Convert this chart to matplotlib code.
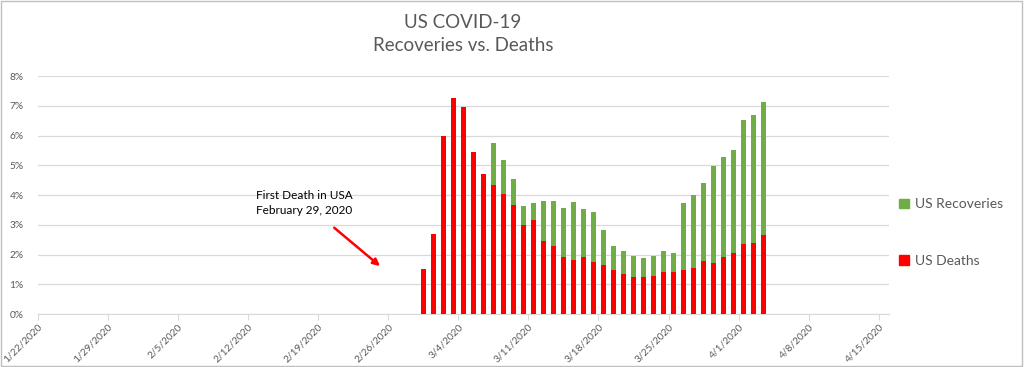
import numpy as np
import matplotlib.pyplot as plt
import matplotlib.dates as mdates
from matplotlib.patches import Patch, Rectangle
import datetime as dt

plt.rcParams['font.family'] = ['Lato', 'DejaVu Sans']

# daily values, 2/29/2020 .. 4/3/2020 (percent)
start = dt.date(2020, 2, 29)
deaths = [1.50, 2.69, 5.99, 7.27, 6.97, 5.45, 4.72, 4.35, 4.04, 3.66,
          2.99, 3.17, 2.45, 2.29, 1.92, 1.82, 1.92, 1.75, 1.64, 1.48,
          1.33, 1.25, 1.24, 1.29, 1.41, 1.42, 1.49, 1.55, 1.78, 1.72,
          1.91, 2.05, 2.36, 2.39, 2.66]
totals = [1.50, 2.69, 5.99, 7.27, 6.97, 5.45, 4.72, 5.76, 5.18, 4.55,
          3.63, 3.72, 3.81, 3.81, 3.55, 3.76, 3.52, 3.42, 2.81, 2.28,
          2.11, 1.95, 1.89, 1.95, 2.11, 2.04, 3.72, 3.99, 4.41, 4.97,
          5.29, 5.52, 6.51, 6.69, 7.12]
recoveries = [t - d for t, d in zip(totals, deaths)]
dates = [start + dt.timedelta(days=i) for i in range(len(deaths))]

axis_start = dt.date(2020, 1, 22)
axis_end = dt.date(2020, 4, 16)
tick_dates = [axis_start + dt.timedelta(days=7 * i) for i in range(13)]

red = '#FF0000'
green = '#70AD47'
gray = '#595959'

fig = plt.figure(figsize=(10.24, 3.67), dpi=100)
ax = fig.add_axes([0.0368, 0.1444, 0.8312, 0.6485])

x = mdates.date2num(dates) + 0.5
d = np.array(deaths) / 100
r = np.array(recoveries) / 100
ax.bar(x, d, width=0.5, color=red, zorder=3)
ax.bar(x, r, width=0.5, bottom=d, color=green, zorder=3)

ax.set_xlim(mdates.date2num(axis_start), mdates.date2num(axis_end))
ax.set_ylim(0, 0.08)
ax.set_yticks(np.arange(0, 0.081, 0.01))
ax.set_yticklabels([f"{i}%" for i in range(9)])
ax.set_xticks(mdates.date2num(tick_dates))
ax.set_xticklabels([f"{t.month}/{t.day}/{t.year}" for t in tick_dates],
                   rotation=45, ha='right', rotation_mode='anchor')
ax.tick_params(axis='both', colors=gray, labelsize=7.3, length=0)
ax.tick_params(axis='x', length=4, color='#d9d9d9', direction='out', pad=2)
ax.tick_params(axis='y', pad=10)
ax.yaxis.grid(True, color='#d9d9d9', linewidth=0.9, zorder=0)
for s in ['top', 'right', 'left']:
    ax.spines[s].set_visible(False)
ax.spines['bottom'].set_color('#d9d9d9')

fig.text(0.452, 0.94, "US COVID-19", ha='center', va='center', fontsize=13.5, color=gray)
fig.text(0.452, 0.875, "Recoveries vs. Deaths", ha='center', va='center', fontsize=13.5, color=gray)

ax.text(mdates.date2num(dt.date(2020, 2, 17)) + 0.6, 0.0373, "First Death in USA\nFebruary 29, 2020",
        ha='center', va='center', fontsize=8.5, color='black', linespacing=1.4)
ax.annotate('', xy=(mdates.date2num(dt.date(2020, 2, 25)) + 0.4, 0.0155),
            xytext=(mdates.date2num(dt.date(2020, 2, 20)) + 0.4, 0.0296),
            arrowprops=dict(arrowstyle='-|>', color=red, lw=1.8, mutation_scale=10))

handles = [Patch(color=green, label='US Recoveries'), Patch(color=red, label='US Deaths')]
fig.legend(handles=handles, loc='center left', bbox_to_anchor=(0.866, 0.366),
           frameon=False, fontsize=10, labelcolor=gray, labelspacing=3.2,
           handlelength=0.7, handleheight=0.7, handletextpad=0.4)

fig.patches.append(Rectangle((0.001, 0.002), 0.997, 0.995, transform=fig.transFigure,
                             fill=False, edgecolor='#bfbfbf', linewidth=1))

fig.savefig("out.png", dpi=100)
